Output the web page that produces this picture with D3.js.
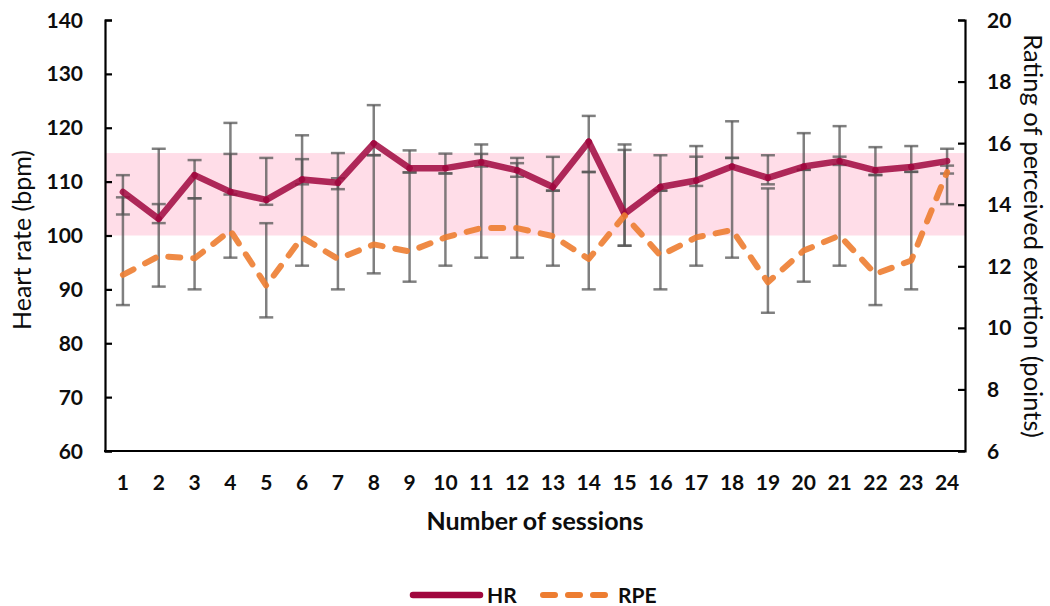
<!DOCTYPE html>
<html>
<head>
<meta charset="utf-8">
<script src="https://cdn.jsdelivr.net/npm/d3@7/dist/d3.min.js"></script>
<style>
  html, body { margin: 0; padding: 0; background: #ffffff; }
  svg { display: block; font-family: Lato, "Open Sans", sans-serif; }
</style>
</head>
<body>
<svg id="chart" width="1050" height="606"></svg>
<script>
// Training sessions 1..24
const sessions = d3.range(1, 25);

// Mean heart rate per session (bpm)
const hrMean = [108.1, 103.1, 111.2, 108.1, 106.6, 110.4, 109.8, 117.1, 112.5, 112.5, 113.6, 112.1,
                109.0, 117.4, 104.0, 109.0, 110.2, 112.8, 110.7, 112.8, 113.8, 112.1, 112.7, 113.8];
// Heart rate error bar limits (bpm)
const hrLow  = [103.9, 102.3, 106.9, 107.6, 105.7, 109.5, 108.6, 114.9, 111.7, 111.5, 112.8, 110.9,
                108.3, 111.8, 98.1, 108.3, 109.2, 114.4, 109.5, 112.2, 113.1, 111.2, 111.8, 111.5];
const hrHigh = [111.2, 116.1, 114.0, 120.9, 114.4, 118.6, 115.3, 124.2, 115.8, 115.2, 116.9, 114.4,
                114.6, 122.2, 116.9, 114.9, 116.6, 121.2, 114.9, 119.0, 120.3, 116.4, 116.6, 116.1];

// Mean rating of perceived exertion per session (points)
const rpeMean = [11.72, 12.33, 12.26, 13.16, 11.37, 12.94, 12.24, 12.71, 12.48, 12.94, 13.24, 13.24,
                 12.98, 12.24, 13.65, 12.35, 12.94, 13.18, 11.48, 12.51, 13.00, 11.75, 12.19, 15.06];
// RPE error bar limits (points)
const rpeLow  = [10.74, 11.34, 11.25, 12.28, 10.34, 12.02, 11.25, 11.77, 11.50, 12.02, 12.28, 12.28,
                 12.02, 11.25, 12.67, 11.25, 12.02, 12.28, 10.49, 11.50, 12.02, 10.74, 11.25, 14.02];
const rpeHigh = [14.24, 14.02, 14.21, 15.65, 13.40, 15.48, 14.86, 15.61, 15.05, 15.02, 15.65, 15.35,
                 14.46, 15.06, 15.78, 14.46, 15.56, 15.52, 14.53, 15.13, 15.56, 14.97, 15.07, 15.27];

// Target heart-rate zone (bpm)
const hrZone = [100, 115.3];

// Axis ticks
const hrTicks = [60, 70, 80, 90, 100, 110, 120, 130, 140];
const rpeTicks = [6, 8, 10, 12, 14, 16, 18, 20];

const svg = d3.select("#chart");
const plotLeft = 105, plotRight = 965, plotTop = 20, plotBottom = 451;

const x = d3.scaleBand().domain(sessions).range([plotLeft, plotRight]).padding(0);
const cx = s => x(s) + x.bandwidth() / 2;
const yHR = d3.scaleLinear().domain([60, 140]).range([plotBottom, plotTop]);
const yRPE = d3.scaleLinear().domain([6, 20]).range([plotBottom, plotTop]);

const HR_COLOR = "#a0073e";
const RPE_COLOR = "#ed7d31";
const ERR_COLOR = "#555555";
const TEXT_COLOR = "#0d0d0d";

// Target zone band
svg.append("rect")
  .attr("x", plotLeft).attr("width", plotRight - plotLeft)
  .attr("y", yHR(hrZone[1])).attr("height", yHR(hrZone[0]) - yHR(hrZone[1]))
  .attr("fill", "#ffdde8");

// Error bars (vertical whisker + caps)
function errorBars(lows, highs, yScale) {
  const g = svg.append("g")
    .attr("stroke", ERR_COLOR).attr("stroke-width", 2.5).attr("stroke-opacity", 0.75).attr("fill", "none");
  sessions.forEach((s, i) => {
    const px = cx(s), y0 = yScale(lows[i]), y1 = yScale(highs[i]);
    g.append("path").attr("d", `M${px},${y0}V${y1}`);
    g.append("path").attr("d", `M${px - 7},${y0}H${px + 7}`);
    g.append("path").attr("d", `M${px - 7},${y1}H${px + 7}`);
  });
}
errorBars(hrLow, hrHigh, yHR);
errorBars(rpeLow, rpeHigh, yRPE);

// Heart rate line, drawn segment by segment
const hrPts = sessions.map((s, i) => [cx(s), yHR(hrMean[i])]);
svg.append("g").selectAll("line")
  .data(d3.pairs(hrPts))
  .join("line")
  .attr("x1", d => d[0][0]).attr("y1", d => d[0][1])
  .attr("x2", d => d[1][0]).attr("y2", d => d[1][1])
  .attr("stroke", HR_COLOR).attr("stroke-width", 6.5)
  .attr("stroke-linecap", "round").attr("stroke-opacity", 0.85);

// RPE dashed line on the secondary axis
svg.append("path")
  .datum(sessions.map((s, i) => [cx(s), yRPE(rpeMean[i])]))
  .attr("d", d3.line())
  .attr("fill", "none").attr("stroke", RPE_COLOR).attr("stroke-width", 6)
  .attr("stroke-dasharray", "12,13").attr("stroke-linecap", "round")
  .attr("stroke-linejoin", "round").attr("stroke-opacity", 0.9);

// Axes
const axisL = svg.append("g").attr("transform", `translate(${plotLeft},0)`)
  .call(d3.axisRight(yHR).tickValues(hrTicks).tickSize(7).tickFormat(""));
const axisR = svg.append("g").attr("transform", `translate(${plotRight},0)`)
  .call(d3.axisLeft(yRPE).tickValues(rpeTicks).tickSize(7).tickFormat(""));
const axisB = svg.append("g").attr("transform", `translate(0,${plotBottom})`)
  .call(d3.axisBottom(x).tickSize(0).tickFormat(""));
[axisL, axisR, axisB].forEach(a => {
  a.selectAll("path.domain").attr("stroke", "#000").attr("stroke-width", 2.2);
  a.selectAll(".tick line").attr("stroke", "#000").attr("stroke-width", 2.2);
});
axisB.select("path.domain").attr("d", `M${plotLeft - 1},0H${plotRight + 1}`);

// Tick labels
svg.append("g").selectAll("text").data(hrTicks).join("text")
  .attr("x", 83).attr("y", d => yHR(d)).attr("dy", "0.36em")
  .attr("text-anchor", "end").attr("font-size", 21).attr("font-weight", 700).attr("fill", TEXT_COLOR)
  .text(d => d);
svg.append("g").selectAll("text").data(rpeTicks).join("text")
  .attr("x", 987).attr("y", d => yRPE(d)).attr("dy", "0.36em")
  .attr("text-anchor", "start").attr("font-size", 21).attr("font-weight", 700).attr("fill", TEXT_COLOR)
  .text(d => d);
svg.append("g").selectAll("text").data(sessions).join("text")
  .attr("x", d => cx(d)).attr("y", 490)
  .attr("text-anchor", "middle").attr("font-size", 21).attr("font-weight", 700).attr("fill", TEXT_COLOR)
  .text(d => d);

// Axis titles
svg.append("text")
  .attr("transform", "translate(31,240) rotate(-90)")
  .attr("text-anchor", "middle").attr("font-size", 25).attr("fill", TEXT_COLOR)
  .text("Heart rate (bpm)");
svg.append("text")
  .attr("transform", "translate(1024,236) rotate(90)")
  .attr("text-anchor", "middle").attr("font-size", 25.5).attr("fill", TEXT_COLOR)
  .text("Rating of perceived exertion (points)");
svg.append("text")
  .attr("x", 535).attr("y", 530)
  .attr("text-anchor", "middle").attr("font-size", 25).attr("font-weight", 700).attr("fill", TEXT_COLOR)
  .text("Number of sessions");

// Legend
const legend = svg.append("g");
legend.append("line").attr("x1", 413).attr("x2", 480).attr("y1", 595).attr("y2", 595)
  .attr("stroke", HR_COLOR).attr("stroke-width", 6.5).attr("stroke-linecap", "round");
legend.append("text").attr("x", 487).attr("y", 603)
  .attr("font-size", 21).attr("font-weight", 700).attr("fill", TEXT_COLOR).text("HR");
legend.append("line").attr("x1", 543).attr("x2", 607).attr("y1", 595).attr("y2", 595)
  .attr("stroke", RPE_COLOR).attr("stroke-width", 6).attr("stroke-linecap", "round")
  .attr("stroke-dasharray", "12,13");
legend.append("text").attr("x", 618).attr("y", 603)
  .attr("font-size", 21).attr("font-weight", 700).attr("fill", TEXT_COLOR).text("RPE");
</script>
</body>
</html>
